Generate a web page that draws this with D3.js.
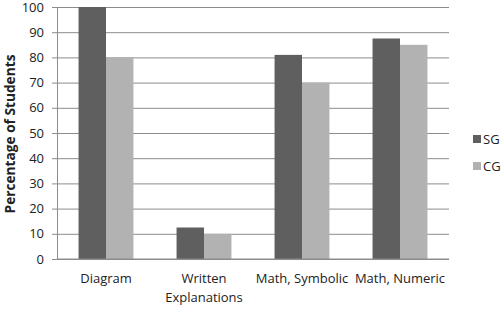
<!DOCTYPE html>
<html lang='en'>
<head>
<meta charset='UTF-8'>
<script src='https://d3js.org/d3.v7.min.js'></script>
<style>
  body { margin: 0; background: #fff; }
  text { font-family: 'Open Sans', sans-serif; fill: #222; }
</style>
</head>
<body>
<svg id='chart' width='504' height='312'></svg>
<script>
const categories = [['Diagram'], ['Written', 'Explanations'], ['Math, Symbolic'], ['Math, Numeric']]
const seriesNames = ['SG', 'CG']
const sgValues = [100, 12.5, 81, 87.5]
const cgValues = [80, 10, 70, 85]
const yTicks = [0, 10, 20, 30, 40, 50, 60, 70, 80, 90, 100]
const colors = ['#5f5f5f', '#b2b2b2']

const svg = d3.select('#chart')
const plotL = 57, plotR = 449, plotT = 7, plotB = 259

const x0 = d3.scaleBand().domain(d3.range(categories.length)).range([plotL, plotR])
  .paddingInner(0.44).paddingOuter(0.22)
const x1 = d3.scaleBand().domain(seriesNames).range([0, x0.bandwidth()])
const y = d3.scaleLinear().domain([0, 100]).range([plotB, plotT])

// gridlines + left axis
const yAxis = svg.append('g')
  .attr('transform', `translate(${plotL},0)`)
  .call(d3.axisLeft(y).tickValues(yTicks).tickSize(5).tickPadding(8))
yAxis.select('.domain').attr('stroke', '#8c8c8c')
yAxis.selectAll('.tick line').attr('stroke', '#8c8c8c')
yAxis.selectAll('.tick text').style('font-size', '13px').attr('fill', '#222')
yAxis.selectAll('.tick').append('line')
  .attr('x1', 0).attr('x2', plotR - plotL)
  .attr('stroke', '#8c8c8c')

// bars
const data = categories.map((c, i) => ({i, vals: [sgValues[i], cgValues[i]]}))
svg.append('g').selectAll('g').data(data).enter().append('g')
  .attr('transform', d => `translate(${x0(d.i)},0)`)
  .selectAll('rect').data(d => d.vals.map((v, k) => ({k, v}))).enter().append('rect')
    .attr('x', d => x1(seriesNames[d.k]))
    .attr('width', x1.bandwidth())
    .attr('y', d => y(d.v))
    .attr('height', d => y(0) - y(d.v))
    .attr('fill', d => colors[d.k])

// x axis baseline
svg.append('line').attr('x1', plotL).attr('x2', plotR).attr('y1', y(0)).attr('y2', y(0))
  .attr('stroke', '#8c8c8c')

// category labels
svg.append('g').selectAll('text').data(categories).enter().append('text')
  .attr('x', (d, i) => x0(i) + x0.bandwidth() / 2)
  .attr('y', 283)
  .attr('text-anchor', 'middle')
  .style('font-size', '13px')
  .selectAll('tspan').data(d => d).enter().append('tspan')
    .attr('x', function () { return this.parentNode.getAttribute('x') })
    .attr('dy', (d, j) => j === 0 ? 0 : 19)
    .text(d => d)

// y title
svg.append('text')
  .attr('transform', `translate(15,134) rotate(-90)`)
  .attr('text-anchor', 'middle')
  .style('font-size', '13.7px').style('font-weight', 'bold')
  .text('Percentage of Students')

// legend
const legend = svg.append('g').selectAll('g').data(seriesNames).enter().append('g')
  .attr('transform', (d, i) => `translate(473,${139 + i * 27})`)
legend.append('rect').attr('x', 0).attr('y', -4).attr('width', 8).attr('height', 8)
  .attr('fill', (d, i) => colors[i])
legend.append('text').attr('x', 10).attr('y', 5).style('font-size', '13px').text(d => d)
</script>
</body>
</html>
